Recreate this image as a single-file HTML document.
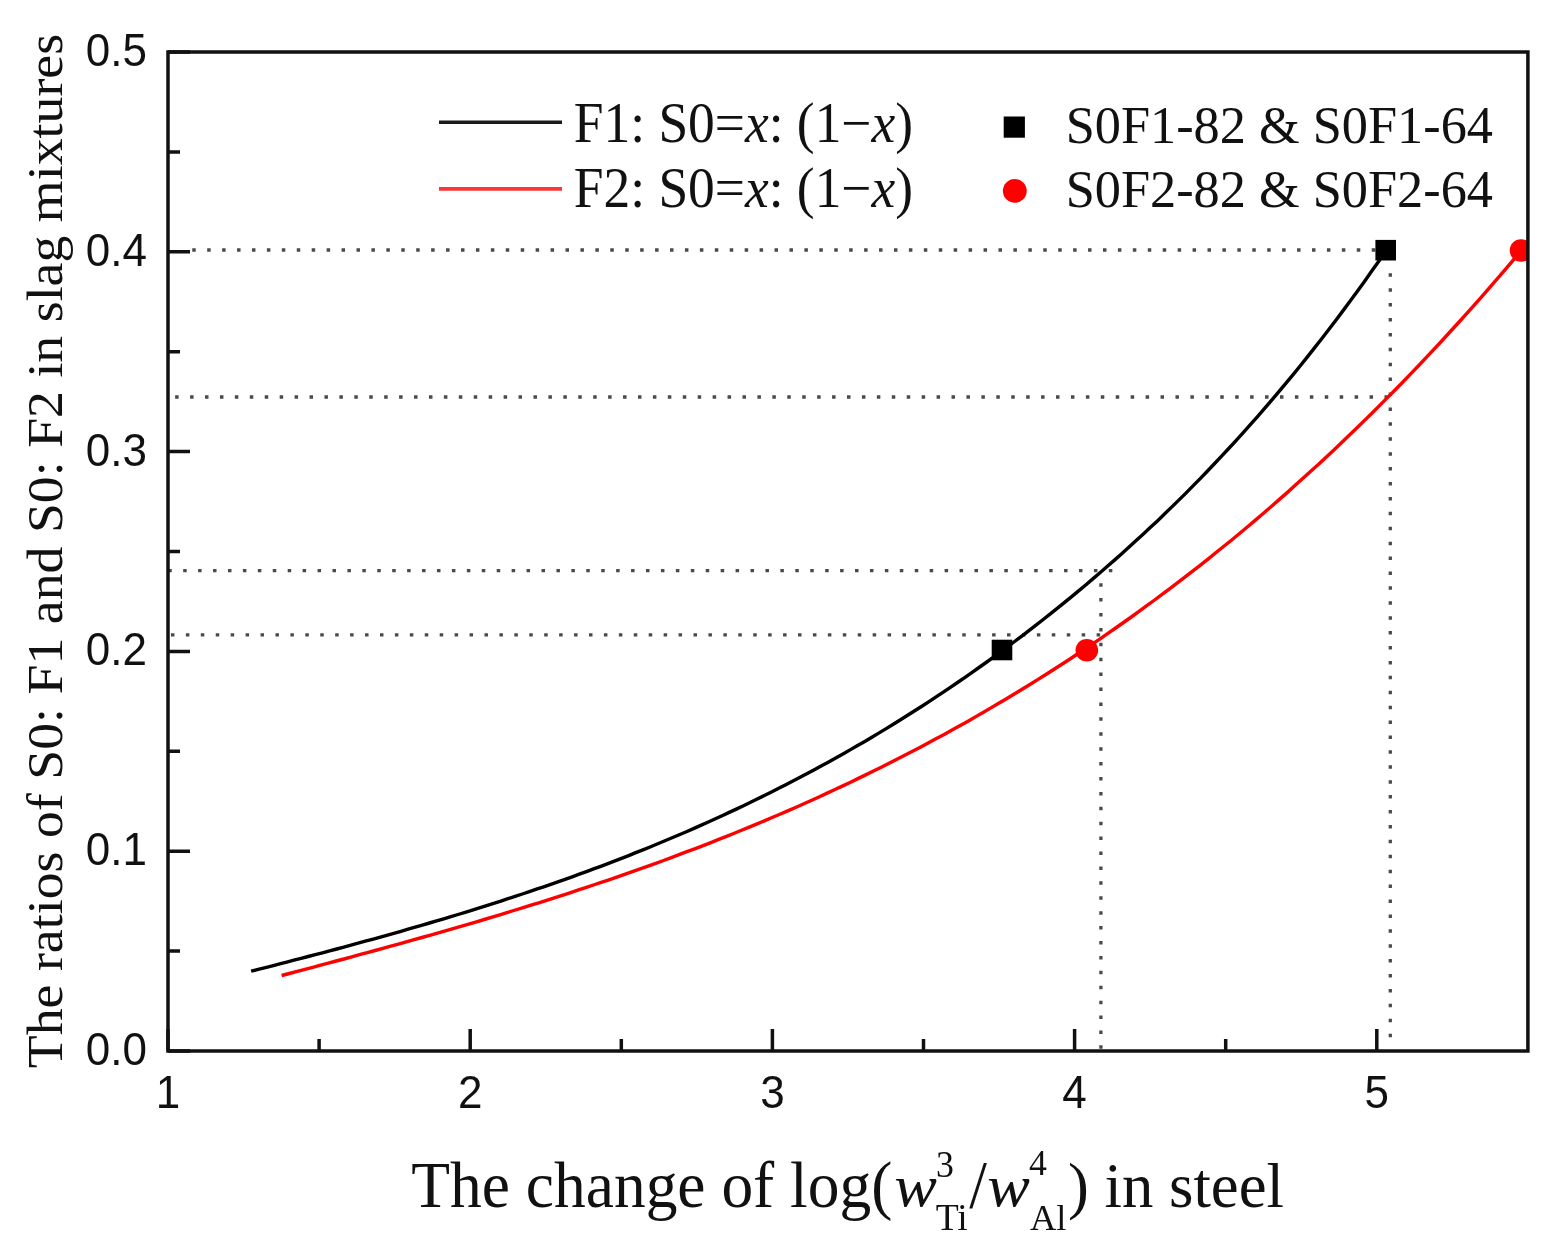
<!DOCTYPE html>
<html><head><meta charset="utf-8"><style>
html,body{margin:0;padding:0;background:#fff;}
svg{display:block;}
.sans{font-family:"Liberation Sans",Arial,sans-serif;font-size:44px;fill:#111;}
.serif{font-family:"Liberation Serif","Times New Roman",serif;fill:#111;}
</style></head><body>
<svg width="1564" height="1256" viewBox="0 0 1564 1256">
<rect width="1564" height="1256" fill="#fff"/>
<defs><clipPath id="pa"><rect x="168.0" y="52.0" width="1359.8999999999999" height="999.0"/></clipPath></defs>
<path d="M192.25 250h3.5M207.18 250h3.5M222.11 250h3.5M237.04 250h3.5M251.97 250h3.5M266.90 250h3.5M281.83 250h3.5M296.76 250h3.5M311.69 250h3.5M326.62 250h3.5M341.55 250h3.5M356.48 250h3.5M371.41 250h3.5M386.34 250h3.5M401.27 250h3.5M416.20 250h3.5M431.13 250h3.5M446.06 250h3.5M460.99 250h3.5M475.92 250h3.5M490.85 250h3.5M505.78 250h3.5M520.71 250h3.5M535.64 250h3.5M550.57 250h3.5M565.50 250h3.5M580.43 250h3.5M595.36 250h3.5M610.29 250h3.5M625.22 250h3.5M640.15 250h3.5M655.08 250h3.5M670.01 250h3.5M684.94 250h3.5M699.87 250h3.5M714.80 250h3.5M729.73 250h3.5M744.66 250h3.5M759.59 250h3.5M774.52 250h3.5M789.45 250h3.5M804.38 250h3.5M819.31 250h3.5M834.24 250h3.5M849.17 250h3.5M864.10 250h3.5M879.03 250h3.5M893.96 250h3.5M908.89 250h3.5M923.82 250h3.5M938.75 250h3.5M953.68 250h3.5M968.61 250h3.5M983.54 250h3.5M998.47 250h3.5M1013.40 250h3.5M1028.33 250h3.5M1043.26 250h3.5M1058.19 250h3.5M1073.12 250h3.5M1088.05 250h3.5M1102.98 250h3.5M1117.91 250h3.5M1132.84 250h3.5M1147.77 250h3.5M1162.70 250h3.5M1177.63 250h3.5M1192.56 250h3.5M1207.49 250h3.5M1222.42 250h3.5M1237.35 250h3.5M1252.28 250h3.5M1267.21 250h3.5M1282.14 250h3.5M1297.07 250h3.5M1312.00 250h3.5M1326.93 250h3.5M1341.86 250h3.5M1356.79 250h3.5M1371.72 250h3.5M175.15 397h3.5M190.08 397h3.5M205.01 397h3.5M219.94 397h3.5M234.87 397h3.5M249.80 397h3.5M264.73 397h3.5M279.66 397h3.5M294.59 397h3.5M309.52 397h3.5M324.45 397h3.5M339.38 397h3.5M354.31 397h3.5M369.24 397h3.5M384.17 397h3.5M399.10 397h3.5M414.03 397h3.5M428.96 397h3.5M443.89 397h3.5M458.82 397h3.5M473.75 397h3.5M488.68 397h3.5M503.61 397h3.5M518.54 397h3.5M533.47 397h3.5M548.40 397h3.5M563.33 397h3.5M578.26 397h3.5M593.19 397h3.5M608.12 397h3.5M623.05 397h3.5M637.98 397h3.5M652.91 397h3.5M667.84 397h3.5M682.77 397h3.5M697.70 397h3.5M712.63 397h3.5M727.56 397h3.5M742.49 397h3.5M757.42 397h3.5M772.35 397h3.5M787.28 397h3.5M802.21 397h3.5M817.14 397h3.5M832.07 397h3.5M847.00 397h3.5M861.93 397h3.5M876.86 397h3.5M891.79 397h3.5M906.72 397h3.5M921.65 397h3.5M936.58 397h3.5M951.51 397h3.5M966.44 397h3.5M981.37 397h3.5M996.30 397h3.5M1011.23 397h3.5M1026.16 397h3.5M1041.09 397h3.5M1056.02 397h3.5M1070.95 397h3.5M1085.88 397h3.5M1100.81 397h3.5M1115.74 397h3.5M1130.67 397h3.5M1145.60 397h3.5M1160.53 397h3.5M1175.46 397h3.5M1190.39 397h3.5M1205.32 397h3.5M1220.25 397h3.5M1235.18 397h3.5M1250.11 397h3.5M1265.04 397h3.5M1279.97 397h3.5M1294.90 397h3.5M1309.83 397h3.5M1324.76 397h3.5M1339.69 397h3.5M1354.62 397h3.5M1369.55 397h3.5M1384.48 397h3.5M168.25 570.7h3.5M183.18 570.7h3.5M198.11 570.7h3.5M213.04 570.7h3.5M227.97 570.7h3.5M242.90 570.7h3.5M257.83 570.7h3.5M272.76 570.7h3.5M287.69 570.7h3.5M302.62 570.7h3.5M317.55 570.7h3.5M332.48 570.7h3.5M347.41 570.7h3.5M362.34 570.7h3.5M377.27 570.7h3.5M392.20 570.7h3.5M407.13 570.7h3.5M422.06 570.7h3.5M436.99 570.7h3.5M451.92 570.7h3.5M466.85 570.7h3.5M481.78 570.7h3.5M496.71 570.7h3.5M511.64 570.7h3.5M526.57 570.7h3.5M541.50 570.7h3.5M556.43 570.7h3.5M571.36 570.7h3.5M586.29 570.7h3.5M601.22 570.7h3.5M616.15 570.7h3.5M631.08 570.7h3.5M646.01 570.7h3.5M660.94 570.7h3.5M675.87 570.7h3.5M690.80 570.7h3.5M705.73 570.7h3.5M720.66 570.7h3.5M735.59 570.7h3.5M750.52 570.7h3.5M765.45 570.7h3.5M780.38 570.7h3.5M795.31 570.7h3.5M810.24 570.7h3.5M825.17 570.7h3.5M840.10 570.7h3.5M855.03 570.7h3.5M869.96 570.7h3.5M884.89 570.7h3.5M899.82 570.7h3.5M914.75 570.7h3.5M929.68 570.7h3.5M944.61 570.7h3.5M959.54 570.7h3.5M974.47 570.7h3.5M989.40 570.7h3.5M1004.33 570.7h3.5M1019.26 570.7h3.5M1034.19 570.7h3.5M1049.12 570.7h3.5M1064.05 570.7h3.5M1078.98 570.7h3.5M1093.91 570.7h3.5M1108.84 570.7h3.5M170.95 634.8h3.5M185.88 634.8h3.5M200.81 634.8h3.5M215.74 634.8h3.5M230.67 634.8h3.5M245.60 634.8h3.5M260.53 634.8h3.5M275.46 634.8h3.5M290.39 634.8h3.5M305.32 634.8h3.5M320.25 634.8h3.5M335.18 634.8h3.5M350.11 634.8h3.5M365.04 634.8h3.5M379.97 634.8h3.5M394.90 634.8h3.5M409.83 634.8h3.5M424.76 634.8h3.5M439.69 634.8h3.5M454.62 634.8h3.5M469.55 634.8h3.5M484.48 634.8h3.5M499.41 634.8h3.5M514.34 634.8h3.5M529.27 634.8h3.5M544.20 634.8h3.5M559.13 634.8h3.5M574.06 634.8h3.5M588.99 634.8h3.5M603.92 634.8h3.5M618.85 634.8h3.5M633.78 634.8h3.5M648.71 634.8h3.5M663.64 634.8h3.5M678.57 634.8h3.5M693.50 634.8h3.5M708.43 634.8h3.5M723.36 634.8h3.5M738.29 634.8h3.5M753.22 634.8h3.5M768.15 634.8h3.5M783.08 634.8h3.5M798.01 634.8h3.5M812.94 634.8h3.5M827.87 634.8h3.5M842.80 634.8h3.5M857.73 634.8h3.5M872.66 634.8h3.5M887.59 634.8h3.5M902.52 634.8h3.5M917.45 634.8h3.5M932.38 634.8h3.5M947.31 634.8h3.5M962.24 634.8h3.5M977.17 634.8h3.5M992.10 634.8h3.5M1007.03 634.8h3.5M1021.96 634.8h3.5M1036.89 634.8h3.5M1051.82 634.8h3.5M1066.75 634.8h3.5M1081.68 634.8h3.5M1096.61 634.8h3.5M1100.9 583.15v3.5M1100.9 598.06v3.5M1100.9 612.97v3.5M1100.9 627.88v3.5M1100.9 642.79v3.5M1100.9 657.70v3.5M1100.9 672.61v3.5M1100.9 687.52v3.5M1100.9 702.43v3.5M1100.9 717.34v3.5M1100.9 732.25v3.5M1100.9 747.16v3.5M1100.9 762.07v3.5M1100.9 776.98v3.5M1100.9 791.89v3.5M1100.9 806.80v3.5M1100.9 821.71v3.5M1100.9 836.62v3.5M1100.9 851.53v3.5M1100.9 866.44v3.5M1100.9 881.35v3.5M1100.9 896.26v3.5M1100.9 911.17v3.5M1100.9 926.08v3.5M1100.9 940.99v3.5M1100.9 955.90v3.5M1100.9 970.81v3.5M1100.9 985.72v3.5M1100.9 1000.63v3.5M1100.9 1015.54v3.5M1100.9 1030.45v3.5M1100.9 1045.36v3.5M1390.3 273.25v3.5M1390.3 288.16v3.5M1390.3 303.07v3.5M1390.3 317.98v3.5M1390.3 332.89v3.5M1390.3 347.80v3.5M1390.3 362.71v3.5M1390.3 377.62v3.5M1390.3 392.53v3.5M1390.3 407.44v3.5M1390.3 422.35v3.5M1390.3 437.26v3.5M1390.3 452.17v3.5M1390.3 467.08v3.5M1390.3 481.99v3.5M1390.3 496.90v3.5M1390.3 511.81v3.5M1390.3 526.72v3.5M1390.3 541.63v3.5M1390.3 556.54v3.5M1390.3 571.45v3.5M1390.3 586.36v3.5M1390.3 601.27v3.5M1390.3 616.18v3.5M1390.3 631.09v3.5M1390.3 646.00v3.5M1390.3 660.91v3.5M1390.3 675.82v3.5M1390.3 690.73v3.5M1390.3 705.64v3.5M1390.3 720.55v3.5M1390.3 735.46v3.5M1390.3 750.37v3.5M1390.3 765.28v3.5M1390.3 780.19v3.5M1390.3 795.10v3.5M1390.3 810.01v3.5M1390.3 824.92v3.5M1390.3 839.83v3.5M1390.3 854.74v3.5M1390.3 869.65v3.5M1390.3 884.56v3.5M1390.3 899.47v3.5M1390.3 914.38v3.5M1390.3 929.29v3.5M1390.3 944.20v3.5M1390.3 959.11v3.5M1390.3 974.02v3.5M1390.3 988.93v3.5M1390.3 1003.84v3.5M1390.3 1018.75v3.5M1390.3 1033.66v3.5" stroke="#4a4a4a" stroke-width="3.3" fill="none"/>
<g clip-path="url(#pa)">
<polyline points="251.1,971.2 258.2,969.4 265.4,967.6 272.5,965.8 279.6,963.9 286.8,962.1 293.9,960.2 301.1,958.4 308.2,956.5 315.3,954.7 322.5,952.8 329.6,950.9 336.7,949.0 343.9,947.1 351.0,945.1 358.1,943.2 365.3,941.2 372.4,939.3 379.5,937.3 386.7,935.3 393.8,933.3 401.0,931.3 408.1,929.2 415.2,927.2 422.4,925.1 429.5,923.0 436.6,920.9 443.8,918.8 450.9,916.7 458.0,914.5 465.2,912.3 472.3,910.1 479.4,907.9 486.6,905.6 493.7,903.4 500.9,901.1 508.0,898.7 515.1,896.4 522.3,894.0 529.4,891.6 536.5,889.2 543.7,886.8 550.8,884.3 557.9,881.8 565.1,879.3 572.2,876.8 579.3,874.2 586.5,871.6 593.6,868.9 600.8,866.3 607.9,863.6 615.0,860.8 622.2,858.1 629.3,855.3 636.4,852.4 643.6,849.6 650.7,846.7 657.8,843.8 665.0,840.8 672.1,837.8 679.3,834.7 686.4,831.7 693.5,828.6 700.7,825.4 707.8,822.2 714.9,819.0 722.1,815.7 729.2,812.4 736.3,809.1 743.5,805.7 750.6,802.3 757.7,798.8 764.9,795.3 772.0,791.7 779.2,788.1 786.3,784.5 793.4,780.8 800.6,777.1 807.7,773.3 814.8,769.5 822.0,765.6 829.1,761.7 836.2,757.7 843.4,753.7 850.5,749.6 857.6,745.5 864.8,741.4 871.9,737.2 879.1,732.9 886.2,728.6 893.3,724.2 900.5,719.8 907.6,715.3 914.7,710.8 921.9,706.2 929.0,701.6 936.1,696.9 943.3,692.1 950.4,687.3 957.5,682.5 964.7,677.6 971.8,672.6 979.0,667.5 986.1,662.5 993.2,657.3 1000.4,652.1 1007.5,646.8 1014.6,641.5 1021.8,636.1 1028.9,630.6 1036.0,625.1 1043.2,619.5 1050.3,613.9 1057.5,608.2 1064.6,602.4 1071.7,596.6 1078.9,590.6 1086.0,584.7 1093.1,578.6 1100.3,572.5 1107.4,566.3 1114.5,560.1 1121.7,553.7 1128.8,547.3 1135.9,540.8 1143.1,534.3 1150.2,527.6 1157.4,520.9 1164.5,514.0 1171.6,507.1 1178.8,500.1 1185.9,493.1 1193.0,485.9 1200.2,478.6 1207.3,471.2 1214.4,463.8 1221.6,456.2 1228.7,448.5 1235.8,440.8 1243.0,432.9 1250.1,424.9 1257.3,416.9 1264.4,408.7 1271.5,400.4 1278.7,391.9 1285.8,383.4 1292.9,374.8 1300.1,366.0 1307.2,357.1 1314.3,348.1 1321.5,339.0 1328.6,329.8 1335.7,320.4 1342.9,310.9 1350.0,301.3 1357.2,291.6 1364.3,281.7 1371.4,271.6 1378.6,261.5 1385.7,251.2" fill="none" stroke="#000" stroke-width="3.4" stroke-linejoin="round"/>
<polyline points="281.6,975.5 289.4,973.5 297.2,971.4 305.0,969.3 312.8,967.3 320.6,965.2 328.4,963.1 336.2,961.0 344.0,959.0 351.8,956.9 359.5,954.7 367.3,952.6 375.1,950.5 382.9,948.4 390.7,946.2 398.5,944.1 406.3,941.9 414.1,939.7 421.9,937.5 429.7,935.3 437.5,933.1 445.3,930.9 453.1,928.6 460.9,926.4 468.7,924.1 476.5,921.8 484.3,919.5 492.1,917.1 499.9,914.8 507.7,912.4 515.4,910.0 523.2,907.6 531.0,905.2 538.8,902.8 546.6,900.3 554.4,897.8 562.2,895.3 570.0,892.8 577.8,890.2 585.6,887.7 593.4,885.0 601.2,882.4 609.0,879.8 616.8,877.1 624.6,874.4 632.4,871.7 640.2,868.9 648.0,866.1 655.8,863.3 663.6,860.5 671.3,857.6 679.1,854.7 686.9,851.7 694.7,848.8 702.5,845.8 710.3,842.8 718.1,839.7 725.9,836.6 733.7,833.5 741.5,830.3 749.3,827.1 757.1,823.9 764.9,820.6 772.7,817.3 780.5,814.0 788.3,810.6 796.1,807.2 803.9,803.7 811.7,800.2 819.5,796.7 827.2,793.1 835.0,789.5 842.8,785.9 850.6,782.2 858.4,778.4 866.2,774.6 874.0,770.8 881.8,766.9 889.6,763.0 897.4,759.1 905.2,755.1 913.0,751.0 920.8,746.9 928.6,742.8 936.4,738.6 944.2,734.4 952.0,730.1 959.8,725.8 967.6,721.4 975.4,716.9 983.1,712.5 990.9,707.9 998.7,703.3 1006.5,698.7 1014.3,694.0 1022.1,689.3 1029.9,684.5 1037.7,679.6 1045.5,674.7 1053.3,669.7 1061.1,664.7 1068.9,659.7 1076.7,654.5 1084.5,649.3 1092.3,644.1 1100.1,638.8 1107.9,633.4 1115.7,628.0 1123.5,622.5 1131.3,617.0 1139.0,611.4 1146.8,605.7 1154.6,600.0 1162.4,594.2 1170.2,588.3 1178.0,582.4 1185.8,576.4 1193.6,570.4 1201.4,564.3 1209.2,558.1 1217.0,551.8 1224.8,545.5 1232.6,539.2 1240.4,532.7 1248.2,526.2 1256.0,519.6 1263.8,513.0 1271.6,506.2 1279.4,499.4 1287.2,492.6 1294.9,485.6 1302.7,478.6 1310.5,471.5 1318.3,464.4 1326.1,457.2 1333.9,449.9 1341.7,442.5 1349.5,435.0 1357.3,427.5 1365.1,419.9 1372.9,412.2 1380.7,404.4 1388.5,396.6 1396.3,388.7 1404.1,380.7 1411.9,372.6 1419.7,364.5 1427.5,356.2 1435.3,347.9 1443.1,339.5 1450.8,331.0 1458.6,322.5 1466.4,313.8 1474.2,305.1 1482.0,296.3 1489.8,287.4 1497.6,278.4 1505.4,269.3 1513.2,260.2 1521.0,250.9" fill="none" stroke="#f00" stroke-width="3.4" stroke-linejoin="round"/>
<rect x="991.7" y="639.7" width="20.6" height="20.6" fill="#000"/>
<rect x="1375.4" y="239.9" width="20.6" height="20.6" fill="#000"/>
<circle cx="1086.8" cy="650.3" r="11.3" fill="#f00"/>
<circle cx="1521" cy="250.5" r="11.3" fill="#f00"/>
</g>
<rect x="168.0" y="52.0" width="1359.90" height="999.0" fill="none" stroke="#111" stroke-width="3.5"/>
<path d="M168.0 1051.00H190.0M168.0 851.20H190.0M168.0 651.40H190.0M168.0 451.60H190.0M168.0 251.80H190.0M168.0 52.00H190.0M168.0 951.10H180.0M168.0 751.30H180.0M168.0 551.50H180.0M168.0 351.70H180.0M168.0 151.90H180.0M168.00 1051.0V1029.0M470.20 1051.0V1029.0M772.40 1051.0V1029.0M1074.60 1051.0V1029.0M1376.80 1051.0V1029.0M319.10 1051.0V1039.0M621.30 1051.0V1039.0M923.50 1051.0V1039.0M1225.70 1051.0V1039.0" stroke="#111" stroke-width="3.5" fill="none"/>
<g class="sans"><text transform="translate(147 1064.93) scale(1 1.06)" text-anchor="end">0.0</text><text transform="translate(147 865.13) scale(1 1.06)" text-anchor="end">0.1</text><text transform="translate(147 665.33) scale(1 1.06)" text-anchor="end">0.2</text><text transform="translate(147 465.53) scale(1 1.06)" text-anchor="end">0.3</text><text transform="translate(147 265.73) scale(1 1.06)" text-anchor="end">0.4</text><text transform="translate(147 65.93) scale(1 1.06)" text-anchor="end">0.5</text><text transform="translate(168.00 1108.03) scale(1 1.06)" text-anchor="middle">1</text><text transform="translate(470.20 1108.03) scale(1 1.06)" text-anchor="middle">2</text><text transform="translate(772.40 1108.03) scale(1 1.06)" text-anchor="middle">3</text><text transform="translate(1074.60 1108.03) scale(1 1.06)" text-anchor="middle">4</text><text transform="translate(1376.80 1108.03) scale(1 1.06)" text-anchor="middle">5</text></g>
<!-- legend -->
<path d="M439 122.3H562" stroke="#1a1a1a" stroke-width="3.6"/>
<path d="M439 188.8H562" stroke="#ff3535" stroke-width="3.8"/>
<rect x="1003.7" y="116.5" width="21.2" height="21.2" fill="#000"/>
<circle cx="1014.8" cy="190.9" r="11.9" fill="#f00"/>
<text class="serif" font-size="53" transform="matrix(1.0081 0 0 1.0700 573.78 142.00)">F1: S0=<tspan font-style="italic">x</tspan>: (1−<tspan font-style="italic">x</tspan>)</text>
<text class="serif" font-size="53" transform="matrix(1.0081 0 0 1.0700 573.78 207.30)">F2: S0=<tspan font-style="italic">x</tspan>: (1−<tspan font-style="italic">x</tspan>)</text>
<text class="serif" font-size="52" transform="matrix(1.0062 0 0 1.0200 1065.68 143.40)">S0F1-82 &amp; S0F1-64</text>
<text class="serif" font-size="52" transform="matrix(1.0062 0 0 1.0200 1065.68 207.10)">S0F2-82 &amp; S0F2-64</text>
<text class="serif" font-size="66" transform="matrix(0.9616 0 0 0.9767 411.34 1207.20)">The change of log(</text>
<text class="serif" font-size="66" transform="matrix(0.9683 0 0 0.8806 894.26 1205.92)"><tspan font-style="italic">w</tspan></text>
<text class="serif" font-size="39" transform="matrix(0.9188 0 0 0.9846 935.96 1176.90)">3</text>
<text class="serif" font-size="39" transform="matrix(0.9656 0 0 0.9846 935.63 1230.10)">Ti</text>
<text class="serif" font-size="66" transform="matrix(0.9611 0 0 1.0182 969.30 1206.68)">/</text>
<text class="serif" font-size="66" transform="matrix(0.9683 0 0 0.8806 987.36 1205.92)"><tspan font-style="italic">w</tspan></text>
<text class="serif" font-size="39" transform="matrix(0.9167 0 0 0.9192 1029.08 1175.20)">4</text>
<text class="serif" font-size="39" transform="matrix(0.9368 0 0 0.9143 1030.00 1230.10)">Al</text>
<text class="serif" font-size="66" transform="matrix(0.9504 0 0 0.9696 1068.00 1207.30)">) in steel</text>
<g transform="matrix(0.9255 0 0 0.9785 62.39 1068.18)"><text class="serif" font-size="55" transform="rotate(-90)">The ratios of S0: F1 and S0: F2 in slag mixtures</text></g>

</svg>
</body></html>
